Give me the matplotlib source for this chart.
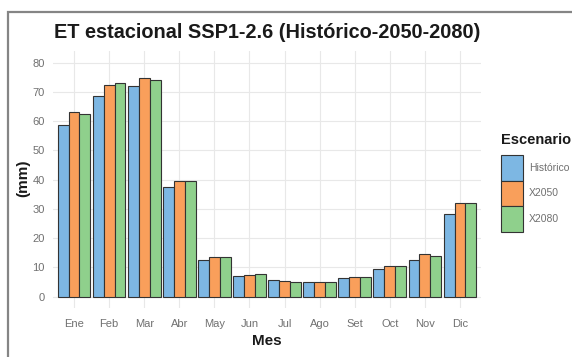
import matplotlib
matplotlib.use("Agg")
import matplotlib.pyplot as plt
from matplotlib.patches import Rectangle
import numpy as np

plt.rcParams['font.family'] = ['Liberation Sans', 'DejaVu Sans']

# datos
meses = ["Ene", "Feb", "Mar", "Abr", "May", "Jun", "Jul", "Ago", "Set", "Oct", "Nov", "Dic"]
escenarios = ["Histórico", "X2050", "X2080"]
historico = [58.6, 68.5, 72.2, 37.6, 12.6, 7.1, 5.7, 5.0, 6.5, 9.4, 12.6, 28.4]
x2050 = [63.3, 72.4, 74.8, 39.4, 13.4, 7.2, 5.2, 5.0, 6.8, 10.5, 14.5, 32.0]
x2080 = [62.6, 73.1, 74.0, 39.4, 13.4, 7.7, 4.9, 5.0, 6.8, 10.5, 13.8, 32.0]
colores = ["#7db7e3", "#f99f5b", "#8fd08c"]
yticks = [0, 10, 20, 30, 40, 50, 60, 70, 80]

W, H = 572, 357
fig = plt.figure(figsize=(W / 100, H / 100), dpi=100)

# panel en pixeles: x 53-481, y 51-308
ax = fig.add_axes([53 / W, 1 - 308.2 / H, (481 - 53) / W, (308.2 - 51.2) / H])

x = np.arange(len(meses))
ancho = 0.31
series = [historico, x2050, x2080]
for i, (serie, col, nombre) in enumerate(zip(series, colores, escenarios)):
    ax.bar(x + (i - 1) * ancho, serie, width=ancho, color=col, edgecolor="#333333",
           linewidth=0.8, label=nombre, zorder=3)

ax.set_xlim(-0.6, len(meses) - 0.4)
ax.set_ylim(-4, 84)
ax.set_xticks(x)
ax.set_xticklabels(meses)
ax.set_yticks(yticks)
ax.grid(True, color="#e8e8e8", linewidth=0.8, zorder=0)
ax.set_axisbelow(True)
for s in ax.spines.values():
    s.set_visible(False)
ax.tick_params(axis="both", length=0, labelsize=8, labelcolor="#707070")
ax.tick_params(axis="x", pad=8)
ax.tick_params(axis="y", pad=6)

# textos
fig.text(267 / W, 1 - 38 / H, "ET estacional SSP1-2.6 (Histórico-2050-2080)",
         ha="center", va="baseline", fontsize=14.3, fontweight="bold", color="#1a1a1a")
fig.text(267 / W, 1 - 341 / H, "Mes", ha="center", va="center",
         fontsize=11, fontweight="bold", color="#1a1a1a")
fig.text(23 / W, 1 - 178 / H, "(mm)", ha="center", va="center", rotation=90,
         fontsize=11, fontweight="bold", color="#1a1a1a")

# leyenda
fig.text(501 / W, 1 - 140 / H, "Escenario", ha="left", va="center",
         fontsize=10.5, fontweight="bold", color="#1a1a1a")
leg = ax.legend(loc="upper left", bbox_to_anchor=(500.7 / W, 1 - 155 / H),
                bbox_transform=fig.transFigure, frameon=False, borderpad=0,
                borderaxespad=0, labelspacing=0, handlelength=2.1,
                handleheight=3.39, handletextpad=0.6, fontsize=7.5)
for t in leg.get_texts():
    t.set_color("#707070")

# marco gris
fig.patches.append(Rectangle((8 / W, -0.1), 1.2, 1.1 - 12 / H, transform=fig.transFigure,
                             fill=False, edgecolor="#858585", linewidth=1.6))

fig.savefig("out.png", dpi=100)
